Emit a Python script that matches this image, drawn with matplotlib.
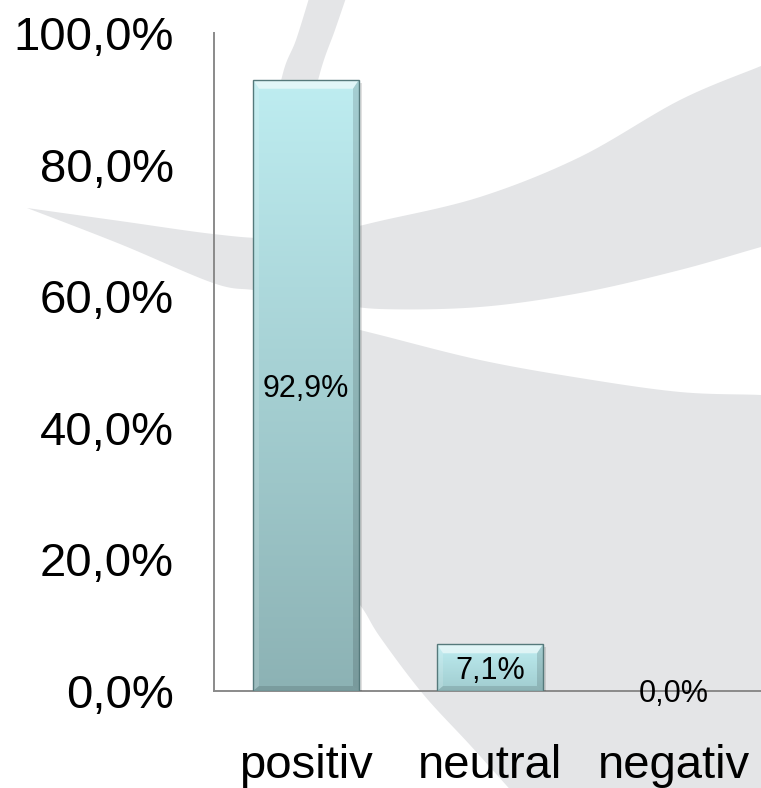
import numpy as np
import matplotlib
matplotlib.use("Agg")
import matplotlib.pyplot as plt
from matplotlib.patches import Polygon, Rectangle

# ---------------- data ----------------
categories = ["positiv", "neutral", "negativ"]
values = [92.9, 7.1, 0.0]
value_labels = ["92,9%", "7,1%", "0,0%"]
yticks = [0, 20, 40, 60, 80, 100]
ytick_labels = ["0,0%", "20,0%", "40,0%", "60,0%", "80,0%", "100,0%"]

# ---------------- figure ----------------
W, H, DPI = 761, 788, 100
plt.rcParams['font.family'] = ['Liberation Sans', 'DejaVu Sans']
fig = plt.figure(figsize=(W / DPI, H / DPI), dpi=DPI)
fig.patch.set_facecolor('white')

# decorative background swooshes (pixel coordinates, y down)
bg = fig.add_axes([0, 0, 1, 1], zorder=0)
bg.set_xlim(0, W)
bg.set_ylim(H, 0)
bg.axis('off')


def smooth(pts, n=12):
    pts = np.asarray(pts, float)
    p = np.vstack([pts[0], pts, pts[-1]])
    out = []
    for i in range(1, len(p) - 2):
        p0, p1, p2, p3 = p[i - 1], p[i], p[i + 1], p[i + 2]
        for t in np.linspace(0, 1, n, endpoint=False):
            t2, t3 = t * t, t * t * t
            out.append(0.5 * ((2 * p1) + (-p0 + p2) * t +
                              (2 * p0 - 5 * p1 + 4 * p2 - p3) * t2 +
                              (-p0 + 3 * p1 - 3 * p2 + p3) * t3))
    out.append(p[-2])
    return np.array(out)


GREY = '#e4e5e7'
# band + wing
up = smooth([(27, 208), (120, 221), (213, 234), (270, 238), (330, 232), (380, 221),
             (480, 197), (580, 157), (680, 100), (761, 66), (800, 50)])
lo = smooth([(800, 237), (761, 247), (680, 270), (580, 293), (480, 307), (380, 309),
             (330, 302), (290, 295), (253, 290), (213, 283), (120, 244), (27, 208)])
bg.add_patch(Polygon(np.vstack([up, lo]), closed=True, fc=GREY, ec='none'))
# crescent + lower-right region
outer = smooth([(310, -5), (296, 40), (283, 73), (270, 140), (262, 250), (268, 380),
                (290, 490), (325, 565), (360, 605), (380, 637), (423, 694), (470, 745), (515, 795)])
lower = smooth([(800, 398), (761, 395), (680, 392), (580, 378), (480, 360), (380, 335), (340, 325)])
inner = smooth([(340, 325), (310, 290), (300, 220), (302, 150), (320, 73), (335, 30), (347, -5)])
bg.add_patch(Polygon(np.vstack([outer, [(800, 795)], lower, inner]), closed=True, fc=GREY, ec='none'))

# ---------------- main axes ----------------
left = 214 / W
bottom = (H - 691) / H
height = (691 - 33) / H
width = 552 / W
ax = fig.add_axes([left, bottom, width, height], zorder=1)
ax.set_facecolor('none')
ax.set_xlim(-0.5, 2.5)
ax.set_ylim(0, 100)

for s in ['top', 'right']:
    ax.spines[s].set_visible(False)
for s in ['left', 'bottom']:
    ax.spines[s].set_color('#8a8a8a')
    ax.spines[s].set_linewidth(1.4)
    ax.spines[s].set_zorder(1)

ax.set_yticks(yticks)
ax.set_yticklabels(ytick_labels, fontsize=34, color='black')
ax.set_xticks(range(len(categories)))
ax.set_xticklabels(categories, fontsize=34, color='black')
ax.tick_params(axis='y', length=0, pad=29)
ax.tick_params(axis='x', length=0, pad=38)

bar_w = 0.576
top_col = np.array([190, 237, 241]) / 255
bot_cols = [np.array([140, 178, 180]) / 255, np.array([160, 204, 207]) / 255, None]

bars = ax.bar(range(len(values)), values, width=bar_w, color='none', edgecolor='none', zorder=2)
fig.canvas.draw()
inv = ax.transData.inverted()

for i, (b, v) in enumerate(zip(bars, values)):
    if v <= 0:
        continue
    x0, x1 = b.get_x(), b.get_x() + b.get_width()
    (X0, Y0) = ax.transData.transform((x0, 0))
    (X1, Y1) = ax.transData.transform((x1, v))
    # soft shadow
    sh = np.array([(X0 + 3, Y0 - 3), (X1 + 3, Y0 - 3), (X1 + 3, Y1 - 3), (X0 + 3, Y1 - 3)])
    ax.add_patch(Polygon(inv.transform(sh), closed=True, fc='black', alpha=0.12, ec='none', zorder=1.9))
    # gradient body
    t = np.linspace(0, 1, 256)[:, None]
    img = (bot_cols[i][None, :] * (1 - t) + top_col[None, :] * t)[:, None, :]
    im = ax.imshow(img, extent=[x0, x1, 0, v], origin='lower', aspect='auto',
                   interpolation='bilinear', zorder=2)
    im.set_clip_path(b)
    # bevels in pixel space
    bt, bs, bb = 9, 6, 5
    top = [(X0, Y1), (X1, Y1), (X1 - bs, Y1 - bt), (X0 + bs, Y1 - bt)]
    lft = [(X0, Y0), (X0, Y1), (X0 + bs, Y1 - bt), (X0 + bs, Y0 + bb)]
    rgt = [(X1, Y0), (X1, Y1), (X1 - bs, Y1 - bt), (X1 - bs, Y0 + bb)]
    bot = [(X0, Y0), (X1, Y0), (X1 - bs, Y0 + bb), (X0 + bs, Y0 + bb)]
    for poly, c, a in [(top, 'white', 0.55), (lft, 'white', 0.15),
                       (rgt, 'black', 0.13), (bot, 'black', 0.12)]:
        ax.add_patch(Polygon(inv.transform(np.array(poly)), closed=True,
                             fc=c, alpha=a, ec='none', zorder=2.5))
    ax.add_patch(Rectangle((x0, 0), x1 - x0, v, fc='none', ec='#55797b',
                           lw=1.0, zorder=2.6))

# data labels
for i, (v, lab) in enumerate(zip(values, value_labels)):
    ax.text(i, v / 2, lab, ha='center', va='center_baseline', fontsize=22, color='black', zorder=4)

fig.savefig('out.png', dpi=DPI, facecolor='white')
